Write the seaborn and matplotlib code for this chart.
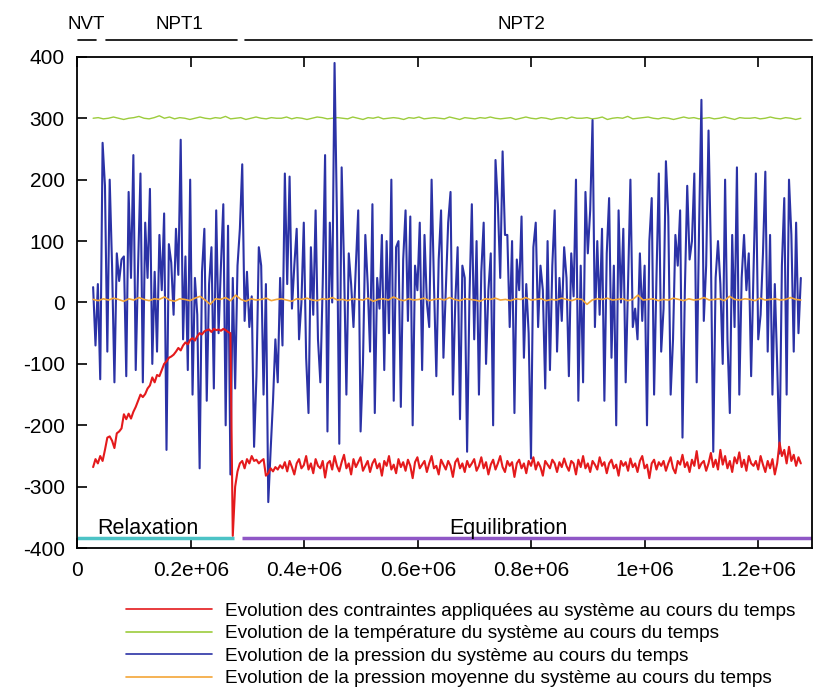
import numpy as np
import pandas as pd
import matplotlib.pyplot as plt
import seaborn as sns
from matplotlib.lines import Line2D

# simulation time span (steps)
t_start, t_end = 0.028e6, 1.275e6

pression = [
    25, -70, 30, -125, 260, 190, -80, 200, 60, -130, 80, 35, 70, 75, -120, 180, 40, 240, -110, 60,
    210, -130, 130, 40, 185, -100, 50, -80, 110, 20, 145, -240, 95, 65, -20, 120, 45, 265, -60, 75,
    -110, 200, -150, 40, -20, -270, 50, 120, -160, 30, 90, -140, 150, -50, 60, 160, -200, 125, -280, 40,
    -140, 60, 120, 225, -30, 50, -40, 10, -235, -120, 90, 60, -150, 30, -325, -240, -160, -60, -130, 40,
    -70, 210, 30, 205, -10, 60, 120, -60, 0, 130, -90, -180, 90, -20, 150, -60, -130, 30, 240, -210,
    130, 0, 390, 140, -230, 220, 60, -150, 80, 30, -40, 60, 150, -210, -100, 110, 30, -80, 160, -180,
    40, -10, 110, -110, 100, -50, 200, -160, 90, 100, -170, 70, 150, -30, 140, -200, 60, 20, 130, -110,
    110, 0, -40, 200, 30, -120, 70, 150, -90, 20, 130, 180, -150, 0, 90, -190, 60, 40, -243, 10,
    160, -60, 100, -150, 50, 130, -100, 20, 80, -200, 232, 160, 40, 246, 110, 110, -40, 100, -180, 70,
    20, 140, -90, 30, -50, -254, 90, 130, -40, 60, 20, -140, 100, -110, 60, 150, -80, 40, -30, 90,
    40, -120, 80, 10, 200, -160, 60, -130, 180, 80, 150, 297, -40, 100, -20, 120, -160, 80, 170, -90,
    60, -200, 150, 0, 120, -130, 30, 200, -40, -10, -60, 80, -30, 60, -200, 100, 170, -150, 40, 210,
    -80, -10, 230, 140, -150, -60, 110, 60, 150, -220, 20, 190, 70, 100, 210, -130, 120, 330, -30, 60,
    280, 80, -243, 40, 100, 30, -100, 200, -60, -180, 110, -40, 220, -150, 40, 110, 20, 80, -120, 50,
    210, -60, -20, 80, 213, -80, 110, -150, 30, -100, -246, 60, 170, -150, 200, 110, -80, 130, -50, 40,
]

contraintes = [
    -268, -255, -262, -250, -258, -240, -220, -218, -225, -237, -213, -210, -205, -182, -190, -181, -189, -178, -170, -160,
    -150, -154, -149, -140, -135, -122, -130, -118, -120, -110, -100, -96, -90, -88, -85, -80, -74, -78, -70, -65,
    -68, -61, -58, -62, -55, -50, -52, -47, -45, -44, -48, -43, -45, -44, -46, -43, -45, -48, -50, -380,
    -300, -275, -262, -258, -270, -255, -262, -250, -258, -256, -262, -258, -255, -282, -278, -270, -275, -268, -272, -265,
    -270, -260, -275, -258, -268, -280, -262, -255, -270, -265, -250, -272, -262, -278, -255, -266, -270, -258, -285, -262,
    -258, -272, -250, -266, -275, -260, -248, -270, -262, -280, -255, -268, -260, -252, -274, -266, -258, -276, -262, -255,
    -270, -262, -282, -258, -266, -250, -272, -264, -278, -255, -268, -260, -274, -256, -266, -286, -260, -252, -270, -264,
    -258, -276, -262, -250, -270, -266, -280, -256, -264, -272, -258, -266, -284, -260, -254, -270, -262, -276, -258, -268,
    -262, -255, -274, -266, -252, -270, -260, -280, -264, -256, -272, -262, -250, -268, -276, -258, -266, -260, -284, -262,
    -256, -270, -262, -278, -258, -266, -252, -272, -260, -268, -282, -258, -264, -270, -256, -262, -276, -260, -268, -254,
    -266, -274, -258, -262, -280, -256, -268, -250, -270, -262, -276, -258, -264, -272, -252, -266, -260, -278, -262, -256,
    -270, -264, -282, -258, -266, -260, -274, -254, -268, -262, -276, -258, -250, -270, -264, -286, -262, -256, -272, -260,
    -266, -258, -274, -262, -252, -270, -278, -258, -264, -248, -268, -260, -276, -256, -266, -242, -270, -262, -258, -274,
    -262, -245, -268, -256, -272, -240, -264, -250, -270, -258, -276, -252, -262, -244, -268, -256, -274, -250, -262, -266,
    -258, -272, -250, -264, -276, -258, -270, -255, -280, -262, -228, -250, -240, -262, -235, -258, -248, -266, -252, -262,
]

temperature = [
    300, 301, 299, 300, 302, 300, 298, 300, 301, 303, 300, 299, 301, 304, 300, 302, 299, 301, 300, 298,
    300, 302, 300, 299, 301, 300, 303, 299, 300, 301, 298, 300, 302, 300, 299, 301, 300, 300, 302, 299,
    301, 300, 298, 300, 302, 301, 299, 300, 301, 300, 299, 302, 300, 298, 301, 300, 302, 299, 300, 301,
    300, 298, 301, 300, 302, 299, 300, 301, 300, 299, 302, 300, 298, 301, 300, 299, 301, 300, 302, 300,
    299, 300, 301, 298, 300, 302, 300, 299, 301, 300, 298, 300, 301, 299, 302, 300, 300, 301, 299, 300,
    302, 298, 300, 301, 300, 303, 299, 300, 301, 302, 300, 299, 301, 300, 298, 300, 302, 300, 301, 299,
    300, 301, 299, 300, 302, 300, 298, 301, 300, 300, 301, 299, 300, 302, 300, 299, 301, 300, 298, 300,
]

pression_moy = [
    5, 3, 6, 4, 7, 5, 2, 6, 4, 8, 5, 3, 6, 5, 9, 4, 2, 6, 5, 3,
    7, 10, 4, -3, 6, 5, 8, 3, 12, 5, 2, 6, 4, 5, 7, 3, 5, 6, 4, 2,
    6, 5, 7, 4, 3, 6, 5, 8, 4, 5, 3, 6, 5, 4, 7, 2, 5, 6, 4, 9,
    5, 3, 6, 4, 5, 7, 3, 5, 6, 4, 8, 5, 3, 6, 5, 4, 2, 6, 5, 7,
    4, 5, 3, 6, 5, 8, 4, 5, 6, 3, 5, 4, 7, 5, 3, 6, 5, -3, 4, 6,
    5, 7, 4, 5, 6, 3, 5, 12, 4, 5, 6, 3, 5, 4, 7, 5, 3, 6, 4, 5,
    8, 4, 5, 6, 3, 10, 5, 4, 6, 5, 3, 7, 4, 5, 6, 4, 5, 8, 5, 4,
]

labels = [
    "Evolution des contraintes appliquées au système au cours du temps",
    "Evolution de la température du système au cours du temps",
    "Evolution de la pression du système au cours du temps",
    "Evolution de la pression moyenne du système au cours du temps",
]
colors = ["#e41a1c", "#9ccc3c", "#2b32a6", "#f3a537"]

x_ticks = [0, 0.2e6, 0.4e6, 0.6e6, 0.8e6, 1.0e6, 1.2e6]
x_ticklabels = ["0", "0.2e+06", "0.4e+06", "0.6e+06", "0.8e+06", "1e+06", "1.2e+06"]
y_ticks = [-400, -300, -200, -100, 0, 100, 200, 300, 400]

# phases (top) and stages (bottom)
phases = ["NVT", "NPT1", "NPT2"]
phase_spans = [(0.002e6, 0.033e6), (0.05e6, 0.282e6), (0.296e6, 1.295e6)]
phase_text_x = [0.016e6, 0.18e6, 0.782e6]
stages = ["Relaxation", "Equilibration"]
stage_spans = [(0.0, 0.277e6), (0.29e6, 1.295e6)]
stage_text_x = [0.125e6, 0.76e6]
stage_colors = ["#4cc3c6", "#8f57c6"]


def make_df(vals):
    return pd.DataFrame({"t": np.linspace(t_start, t_end, len(vals)), "v": vals})


sns.set_style("white")
plt.rcParams['font.family'] = ['Liberation Sans', 'DejaVu Sans']
plt.rcParams['axes.unicode_minus'] = False
plt.rcParams['text.color'] = 'black'

fig = plt.figure(figsize=(8.13, 6.93), dpi=100)
ax = fig.add_axes([0.095, 0.209, 0.904, 0.709])

sns.lineplot(data=make_df(temperature), x="t", y="v", color=colors[1], lw=1.0, ax=ax)
sns.lineplot(data=make_df(pression), x="t", y="v", color=colors[2], lw=1.5, ax=ax)
sns.lineplot(data=make_df(pression_moy), x="t", y="v", color=colors[3], lw=1.2, ax=ax)
sns.lineplot(data=make_df(contraintes), x="t", y="v", color=colors[0], lw=1.5, ax=ax)

ax.set_xlim(0, 1.295e6)
ax.set_ylim(-400, 400)
ax.set_xticks(x_ticks)
ax.set_xticklabels(x_ticklabels)
ax.set_yticks(y_ticks)
ax.set_xlabel("")
ax.set_ylabel("")
ax.tick_params(axis='both', direction='in', length=7, width=1.2, labelsize=15,
               colors='black', labelcolor='black')
ax.tick_params(axis='x', top=True, bottom=True, pad=9)
ax.tick_params(axis='y', left=True, pad=9)
for s in ax.spines.values():
    s.set_color('black')
    s.set_linewidth(1.3)

# phase labels above the plot
xtr = ax.get_xaxis_transform()
for name, (a, b), tx in zip(phases, phase_spans, phase_text_x):
    ax.plot([a, b], [1.035, 1.035], color='black', lw=1.2, transform=xtr, clip_on=False)
    ax.text(tx, 1.066, name, transform=xtr, ha='center', va='center', fontsize=13.5)

# stage bars at the bottom
for name, (a, b), tx, c in zip(stages, stage_spans, stage_text_x, stage_colors):
    ax.plot([a, b], [-383, -383], color=c, lw=2.5, solid_capstyle='butt')
    ax.text(tx, -368, name, ha='center', va='center', fontsize=15.5)

handles = [Line2D([0], [0], color=c, lw=1.2) for c in colors]
fig.legend(handles, labels, loc='upper left', bbox_to_anchor=(0.155, 0.131),
           frameon=False, fontsize=13.7, handlelength=4.5, handletextpad=0.68,
           labelspacing=0.28, borderpad=0, borderaxespad=0)

fig.savefig("out.png", dpi=100)
